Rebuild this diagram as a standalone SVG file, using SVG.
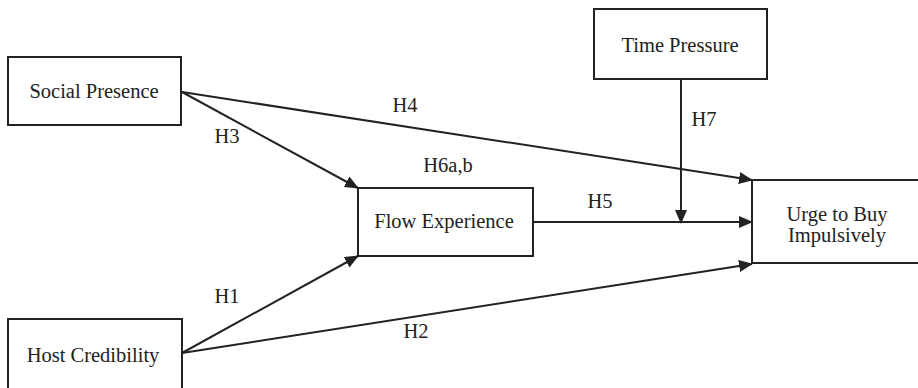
<svg xmlns="http://www.w3.org/2000/svg" width="918" height="388" viewBox="0 0 918 388">
<style>
.box{fill:#fff;stroke:#222;stroke-width:2}
.t{font-family:"Liberation Serif","Times New Roman",serif;font-size:20.5px;fill:#222;text-anchor:middle}
.c{stroke:#222;stroke-width:2;fill:none;marker-end:url(#ah)}
</style>
<defs>
<marker id="ah" markerWidth="14" markerHeight="12" refX="13" refY="6" orient="auto" markerUnits="userSpaceOnUse">
<path d="M0,0 L14,6 L0,12 Z" fill="#222"/>
</marker>
</defs>
<rect width="918" height="388" fill="#fff"/>
<g id="connectors">
<line class="c" x1="182" y1="92" x2="752" y2="180"/>
<line class="c" x1="182" y1="92" x2="358" y2="188"/>
<line class="c" x1="182" y1="353" x2="358" y2="256"/>
<line class="c" x1="182" y1="353" x2="752" y2="264"/>
<line class="c" x1="533" y1="222" x2="752" y2="222"/>
<line class="c" x1="681" y1="79" x2="681" y2="223"/>
<text class="t" x="227" y="143">H3</text>
<text class="t" x="405" y="112">H4</text>
<text class="t" x="448" y="172">H6a,b</text>
<text class="t" x="600" y="208">H5</text>
<text class="t" x="704" y="126">H7</text>
<text class="t" x="227" y="303">H1</text>
<text class="t" x="416" y="338">H2</text>
</g>
<g id="social-presence">
<rect class="box" x="8" y="57" width="173" height="68"/>
<text class="t" x="94" y="98">Social Presence</text>
</g>
<g id="time-pressure">
<rect class="box" x="594" y="9" width="173" height="70"/>
<text class="t" x="680" y="52">Time Pressure</text>
</g>
<g id="flow-experience">
<rect class="box" x="358" y="188" width="175" height="68"/>
<text class="t" x="444" y="228">Flow Experience</text>
</g>
<g id="urge-to-buy">
<rect class="box" x="752" y="180" width="170" height="83"/>
<text class="t" x="837" y="221">Urge to Buy</text>
<text class="t" x="837" y="242">Impulsively</text>
</g>
<g id="host-credibility">
<rect class="box" x="8" y="319" width="174" height="75"/>
<text class="t" x="93" y="362">Host Credibility</text>
</g>
</svg>
